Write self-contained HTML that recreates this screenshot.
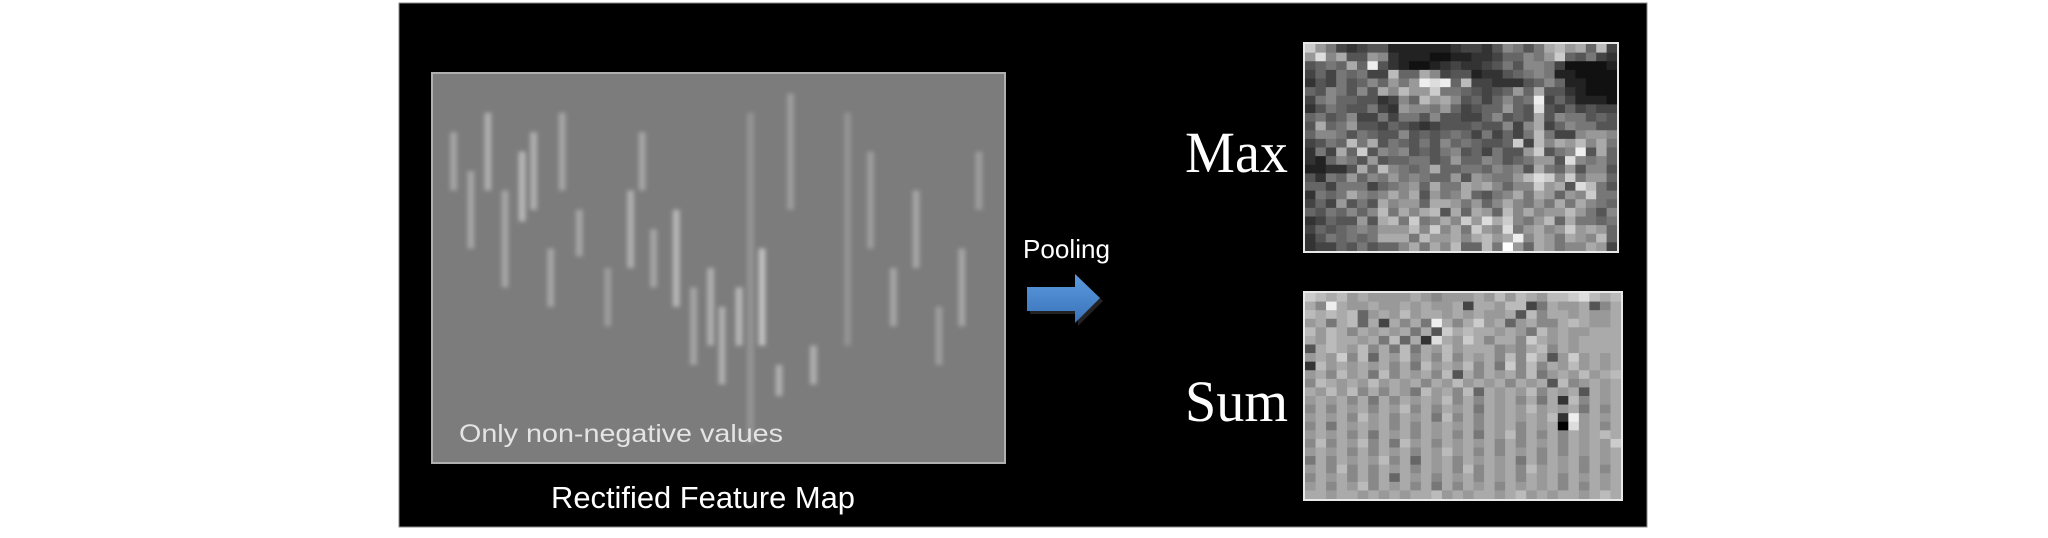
<!DOCTYPE html>
<html><head><meta charset="utf-8">
<style>
html,body{margin:0;padding:0;background:#fff;}
svg{display:block;}
</style></head>
<body>
<svg id="root" width="2048" height="538" viewBox="0 0 2048 538" xmlns="http://www.w3.org/2000/svg">
  <defs>
    <linearGradient id="arrowGrad" x1="0" y1="0" x2="0" y2="1">
      <stop offset="0" stop-color="#5b9be0"/>
      <stop offset="1" stop-color="#3a72b8"/>
    </linearGradient>
    <filter id="blur" x="-50%" y="-10%" width="200%" height="120%"><feGaussianBlur stdDeviation="2.2"/></filter>
    <clipPath id="fmClip"><rect x="433" y="74" width="571" height="388"/></clipPath>
  </defs>
  <rect x="0" y="0" width="2048" height="538" fill="#ffffff"/>
  <rect x="399" y="3" width="1248" height="524" fill="#000" stroke="#888" stroke-width="1"/>
  <rect x="432" y="73" width="573" height="390" fill="#7c7c7c" stroke="#b0b0b0" stroke-width="2"/>
  <g id="featureMap" clip-path="url(#fmClip)" filter="url(#blur)"></g>
  <text x="459" y="442" fill="#e4e4e4" font-family="Liberation Sans, sans-serif" font-size="25" textLength="324" lengthAdjust="spacingAndGlyphs">Only non-negative values</text>
  <text x="551" y="508" fill="#ffffff" font-family="Liberation Sans, sans-serif" font-size="31" textLength="304" lengthAdjust="spacingAndGlyphs">Rectified Feature Map</text>
  <text x="1023" y="258" fill="#ffffff" font-family="Liberation Sans, sans-serif" font-size="26" textLength="87" lengthAdjust="spacingAndGlyphs">Pooling</text>
  <g>
    <polygon points="1030,290 1078,290 1078,277 1103,301 1078,326 1078,314 1030,314" fill="#222" />
    <polygon points="1027,287 1075,287 1075,274 1100,298 1075,323 1075,311 1027,311" fill="url(#arrowGrad)"/>
  </g>
  <text x="1185" y="172" fill="#ffffff" font-family="Liberation Serif, serif" font-size="58" textLength="103" lengthAdjust="spacingAndGlyphs">Max</text>
  <text x="1185" y="421" fill="#ffffff" font-family="Liberation Serif, serif" font-size="58" textLength="103" lengthAdjust="spacingAndGlyphs">Sum</text>
  <g id="maxGrid"></g>
  <g id="sumGrid"></g>
  <rect x="1304" y="43" width="314" height="209" fill="none" stroke="#e8e8e8" stroke-width="2"/>
  <rect x="1304" y="292" width="318" height="208" fill="none" stroke="#e8e8e8" stroke-width="2"/>
</svg>
<script>
const maxRows = [
"c9743455222222344358757ab9a6b4",
"9d8a55983222112233466879c65743",
"5676a6e53211234334575887411112",
"46476744b66a845523356787221111",
"35475686979ede6b44333568622111",
"6587585a8b99c776545696a5532111",
"47866553486b9a85646867e4642221",
"3576557439887964566965d5464544",
"6756844747758554468565a5877565",
"5a67955465434555655848a4687755",
"6887576558565676474647b7448998",
"4576b7a5765758676556c4b8a9b8a7",
"374a6c5878565785647559c578e5a6",
"3268759566775696687567995d8786",
"22335a6b8767a667768785a7695885",
"537696879787669598779bdc8c7996",
"664777467896a77a9a8688c9a5db75",
"3767a878a8a5978a6578a7a9698c77",
"4649575a8996aa97968a8797a7a876",
"6576868b7a8ab5a6a96b8a899b9758",
"3465595ab7c78a8c9dac879b6a7767",
"4656787999b8c8a7c98d79a89c9a96",
"3576767aaa7b99a8ab9ae8a97a98b6",
"3446575668a7a8b66b7f96a9788a94"
];
const sumRows = [
"cbab9a9999a98999a9b9ba9bbcdbab",
"a8ea99a99a9a99a4aa9bb47a99a58a",
"babab69a9b9aa9a9a99a5b8aa9a99a",
"9a7ab6a4a8a7ea8ac9a69a88aba99a",
"b9ba8a9a9a7a5cabaa9a97b9a99aaa",
"a9baa9a7b6a3da9ca8aa8ca9a9aaaa",
"5aba9b8a7b7a9b9aaa898ab8a9aaaa",
"9a9c8b6a9b8a8b8a9a8b8ca59c9a9a",
"3b9a9a9a8a7b9a9b8a7c8b8a9b9a9a",
"9a8b9a7b8a9a8b5a8a9a8b79a9b9ab",
"8ba9a9b9a9a8a9b9a9a8a9a5b89a9a",
"a9b9b8a8a97b9a8b6a9a9b8a9a5a9a",
"9a9a8a7a8a9a9b8a8a9a8a7a3b8a9a",
"8a8a9a8a9b8a8a9a7a9a9b9a9a7a8a",
"9a9a8b9a8a9a7b8a8a9a9a9b3e9a9a",
"8a7a9a9a8a8a9a9a8a9a8a9a0d9a8a",
"9a9a8a7a9a8a9a8a7a9b8a8a8a9aba",
"8b8a9b8a7b9a8a9a9a8a8a9a8a9a9c",
"9a9a8a8a9a8a9b9a8a8a9a8a8a9a9a",
"7a8a9a9b8a6a9a8a9a9a7a8a9a8a9a",
"9a8b8a8a9a8a9a8b8a9a8b9a9a8a8a",
"8a9a8a8a6a9a8a9a8a9a8a9a8a9a9a",
"9a8a9b8a9a8a7a8a9a8a9a9a8a8a9a",
"aa9aa9a9a9aab9a9aa9ab9a9aa9aba"
];
const streakCols = [0.03,0.06,0.09,0.12,0.15,0.17,0.2,0.22,0.3,0.34,0.38,0.42,0.45,0.48,0.5,0.53,0.55,0.57,0.62,0.66,0.72,0.76,0.8,0.84,0.88,0.92,0.95,0.25,0.36,0.6];
const streakTops = [0.15,0.25,0.1,0.3,0.2,0.15,0.45,0.1,0.5,0.3,0.4,0.35,0.55,0.5,0.6,0.55,0.1,0.45,0.05,0.7,0.1,0.2,0.5,0.3,0.6,0.45,0.2,0.35,0.15,0.75];
const streakLens = [0.15,0.2,0.2,0.25,0.18,0.2,0.15,0.2,0.15,0.2,0.15,0.25,0.2,0.2,0.2,0.15,0.85,0.25,0.3,0.1,0.6,0.25,0.15,0.2,0.15,0.2,0.15,0.12,0.15,0.08];
const streakVals = [12,12,13,12,14,13,12,12,11,13,12,14,12,13,13,14,10,15,11,13,10,11,12,12,11,12,11,12,12,13];

const NS = "http://www.w3.org/2000/svg";
function grey(v){const c=Math.round(v*17);return "rgb("+c+","+c+","+c+")";}
function drawGrid(gid, rows, x0, y0, w, h){
  const g=document.getElementById(gid);
  const nr=rows.length;
  let nc=0; rows.forEach(r=>{if(r.length>nc)nc=r.length;});
  const cw=w/nc, ch=h/nr;
  rows.forEach((row,ri)=>{
    for(let ci=0;ci<nc;ci++){
      const v=parseInt(row[ci]||row[row.length-1],16);
      const r=document.createElementNS(NS,"rect");
      r.setAttribute("x",(x0+ci*cw).toFixed(2));
      r.setAttribute("y",(y0+ri*ch).toFixed(2));
      r.setAttribute("width",(cw+0.6).toFixed(2));
      r.setAttribute("height",(ch+0.6).toFixed(2));
      r.setAttribute("fill",grey(isNaN(v)?8:v));
      
      
      g.appendChild(r);
    }
  });
}
drawGrid("maxGrid", maxRows, 1305, 44, 312, 207);
drawGrid("sumGrid", sumRows, 1305, 293, 316, 206);

const fm=document.getElementById("featureMap");
const fx=433, fy=74, fw=571, fh=388;
streakCols.forEach((c,i)=>{
  const r=document.createElementNS(NS,"rect");
  r.setAttribute("x",(fx+c*fw).toFixed(1));
  r.setAttribute("y",(fy+streakTops[i]*fh).toFixed(1));
  r.setAttribute("width","7");
  r.setAttribute("height",(streakLens[i]*fh).toFixed(1));
  r.setAttribute("fill",grey(streakVals[i]));
  r.setAttribute("opacity","0.5");
  
  
  fm.appendChild(r);
});
</script>
</body></html>
